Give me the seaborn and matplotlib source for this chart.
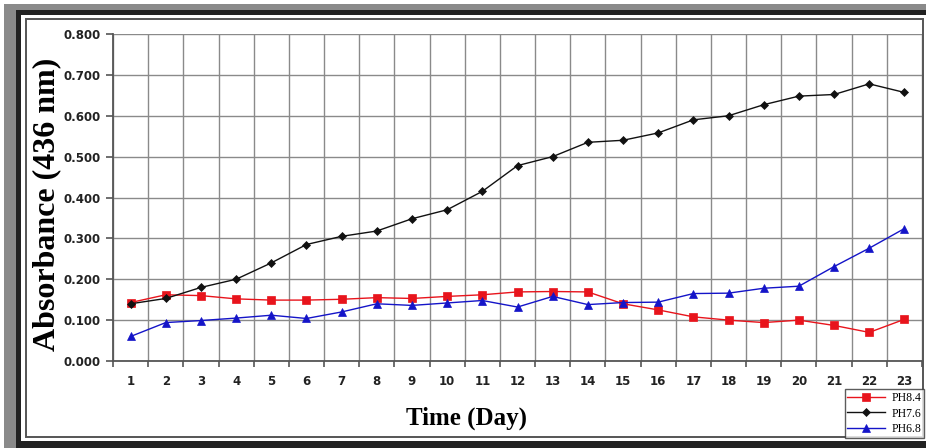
import numpy as np
import pandas as pd
import matplotlib
matplotlib.use('Agg')
import matplotlib.pyplot as plt
from matplotlib.patches import Rectangle
import seaborn as sns

# ---------------------------------------------------------------------------
# Data
# ---------------------------------------------------------------------------
days = list(range(1, 24))
ph84 = [0.143, 0.162, 0.160, 0.152, 0.149, 0.149, 0.151, 0.155, 0.153, 0.158,
        0.162, 0.169, 0.170, 0.169, 0.140, 0.125, 0.108, 0.100, 0.094, 0.100,
        0.087, 0.070, 0.102]
ph76 = [0.140, 0.153, 0.180, 0.200, 0.240, 0.285, 0.305, 0.318, 0.348, 0.370,
        0.415, 0.478, 0.500, 0.535, 0.540, 0.558, 0.590, 0.600, 0.627, 0.648,
        0.652, 0.678, 0.657]
ph68 = [0.060, 0.094, 0.099, 0.105, 0.112, 0.104, 0.120, 0.140, 0.136, 0.142,
        0.148, 0.132, 0.158, 0.138, 0.143, 0.144, 0.165, 0.166, 0.178, 0.183,
        0.231, 0.276, 0.324]
series_names = ['PH8.4', 'PH7.6', 'PH6.8']
y_ticks = [0.0, 0.1, 0.2, 0.3, 0.4, 0.5, 0.6, 0.7, 0.8]

df = pd.DataFrame({
    'Day': days * 3,
    'Absorbance': ph84 + ph76 + ph68,
    'Series': np.repeat(series_names, len(days)),
})

palette = {'PH8.4': '#e8141c', 'PH7.6': '#111111', 'PH6.8': '#1414c8'}
markers = {'PH8.4': 's', 'PH7.6': 'D', 'PH6.8': '^'}
msize = {'PH8.4': 5.5, 'PH7.6': 4.2, 'PH6.8': 6}

W, H = 926, 448
fig = plt.figure(figsize=(W / 100, H / 100), dpi=100)
fig.patch.set_facecolor('white')


def fx(px):
    return px / W


def fy(py):
    return 1 - py / H


# picture frame
fig.add_artist(Rectangle((fx(4), fy(448)), fx(1000), fy(4) - fy(448), transform=fig.transFigure,
                         facecolor='#8a8a8a', edgecolor='none', zorder=-3))
fig.add_artist(Rectangle((fx(16), fy(448)), fx(1000), fy(10) - fy(448), transform=fig.transFigure,
                         facecolor='#222222', edgecolor='none', zorder=-2))
fig.add_artist(Rectangle((fx(21), fy(441)), fx(1000), fy(15) - fy(441), transform=fig.transFigure,
                         facecolor='white', edgecolor='none', zorder=-1))
fig.add_artist(Rectangle((fx(26), fy(437)), fx(923) - fx(26), fy(19) - fy(437),
                         transform=fig.transFigure, facecolor='none', edgecolor='#555555',
                         lw=1.4, zorder=0))

ax = fig.add_axes([fx(113), fy(361), fx(922) - fx(113), fy(34) - fy(361)])
ax.set_facecolor('none')

for name in series_names:
    sub = df[df['Series'] == name]
    sns.lineplot(data=sub, x='Day', y='Absorbance', color=palette[name],
                 marker=markers[name], markersize=msize[name], markeredgewidth=0.5,
                 markeredgecolor=palette[name], lw=1.0, label=name, ax=ax, zorder=3)

ax.set_xlim(0.5, 23.5)
ax.set_ylim(0, 0.8)
ax.set_xticks(days)
ax.set_xticks(np.arange(0.5, 24, 1), minor=True)
ax.set_yticks(y_ticks)
ax.set_yticklabels([f'{v:.3f}' for v in y_ticks])
ax.grid(which='minor', axis='x', color='#8a8a8a', lw=1.0)
ax.grid(which='major', axis='y', color='#8a8a8a', lw=1.0)
ax.grid(which='major', axis='x', visible=False)
ax.tick_params(axis='x', which='major', length=0, pad=10, labelsize=8.5, labelcolor='#222222')
ax.tick_params(axis='x', which='minor', length=4, direction='out', color='#555555', width=1.2)
ax.tick_params(axis='y', length=5, width=1.2, color='#555555', labelsize=8.5,
               labelcolor='#222222', pad=4)
for lab in ax.get_xticklabels() + ax.get_yticklabels():
    lab.set_fontweight('bold')
for s in ['top', 'right']:
    ax.spines[s].set_visible(False)
for s in ['left', 'bottom']:
    ax.spines[s].set_color('#555555')
    ax.spines[s].set_linewidth(1.3)

ax.set_ylabel('Absorbance (436 nm)', family='Liberation Serif', fontweight='bold', fontsize=23)
ax.yaxis.set_label_coords((61 - 113) / 809, 0.48)
ax.set_xlabel('Time (Day)', family='Liberation Serif', fontweight='bold', fontsize=18)
ax.xaxis.set_label_coords((467 - 113) / 809, (361 - 407) / 327)

leg = ax.legend(loc='lower right', bbox_to_anchor=(fx(924), fy(438)),
                bbox_transform=fig.transFigure, prop={'family': 'Liberation Serif', 'size': 8.5},
                frameon=True, fancybox=False, edgecolor='#333333', handlelength=3.2,
                borderpad=0.25, labelspacing=0.3, handletextpad=0.5, borderaxespad=0)
leg.get_frame().set_linewidth(1.0)

fig.savefig('out.png', dpi=100)
